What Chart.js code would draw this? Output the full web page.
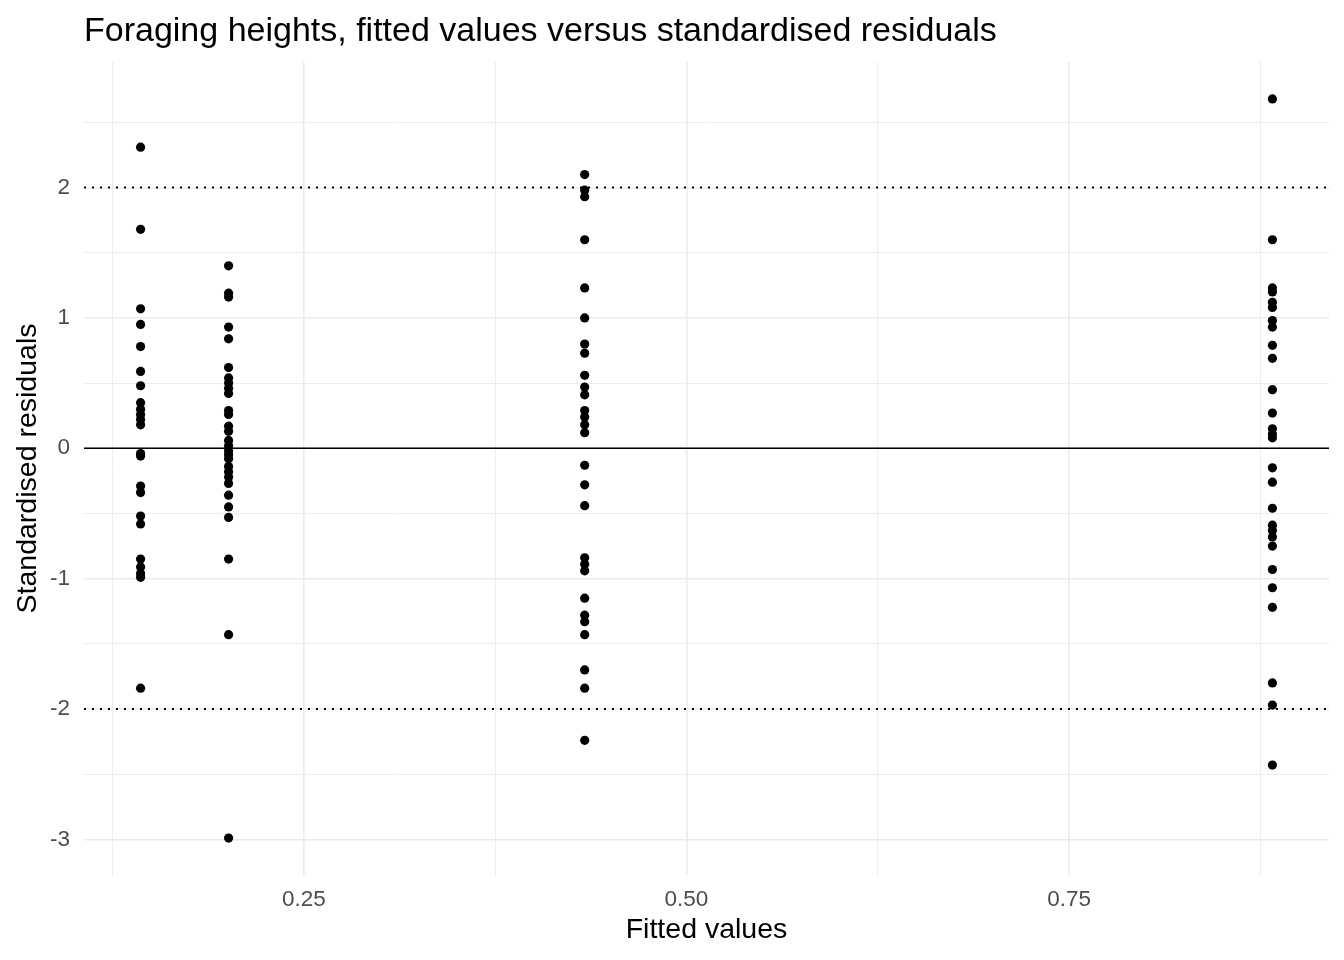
<!DOCTYPE html>
<html>
<head>
<meta charset="utf-8">
<title>Foraging heights residuals</title>
<script src="https://cdn.jsdelivr.net/npm/chart.js@4.4.1/dist/chart.umd.min.js"></script>
<style>
    html, body { margin: 0; padding: 0; background: #ffffff; }
    #chart { display: block; }
</style>
</head>
<body>
<canvas id="chart" width="1344" height="960"></canvas>
<script>
// ========== DATA ==========

// fitted values of the four groups
const fittedValues = [0.1433, 0.2008, 0.4335, 0.8829];

// standardised residuals for each fitted value
const residualsA = [2.31, 1.68, 1.07, 0.95, 0.78, 0.59, 0.48, 0.35, 0.30, 0.26, 0.22, 0.18,
    -0.04, -0.06, -0.29, -0.34, -0.52, -0.58, -0.85, -0.91, -0.96, -0.99, -1.84];
const residualsB = [1.40, 1.19, 1.16, 0.93, 0.84, 0.62, 0.54, 0.50, 0.46, 0.42, 0.29, 0.26,
    0.17, 0.13, 0.06, 0.02, -0.02, -0.05, -0.08, -0.14, -0.18, -0.22, -0.27, -0.36, -0.45,
    -0.53, -0.85, -1.43, -2.99];
const residualsC = [2.10, 1.98, 1.93, 1.60, 1.23, 1.00, 0.80, 0.73, 0.56, 0.47, 0.41, 0.29,
    0.24, 0.18, 0.12, -0.13, -0.28, -0.44, -0.84, -0.89, -0.94, -1.15, -1.28, -1.33, -1.43,
    -1.70, -1.84, -2.24];
const residualsD = [2.68, 1.60, 1.23, 1.20, 1.12, 1.08, 0.98, 0.93, 0.79, 0.69, 0.45, 0.27,
    0.15, 0.11, 0.08, -0.15, -0.26, -0.46, -0.59, -0.63, -0.68, -0.75, -0.93, -1.07, -1.22,
    -1.80, -1.97, -2.43];

// reference lines
const zeroLine = [0];
const limitLines = [-2, 2];

// tick values (major + minor)
const xTicks = [0.125, 0.25, 0.375, 0.5, 0.625, 0.75, 0.875];
const yTicks = [-3, -2.5, -2, -1.5, -1, -0.5, 0, 0.5, 1, 1.5, 2, 2.5];

const titleText = 'Foraging heights, fitted values versus standardised residuals';
const FONT = "'Liberation Sans', Arial, sans-serif";

// ========== BUILD ==========

const residualGroups = [residualsA, residualsB, residualsC, residualsD];
const points = [];
residualGroups.forEach((group, i) => {
    group.forEach(r => points.push({ x: fittedValues[i], y: r }));
});

// ggplot style 5% expansion of the data range
function expandRange(values) {
    const lo = Math.min(...values);
    const hi = Math.max(...values);
    const pad = (hi - lo) * 0.05;
    return [lo - pad, hi + pad];
}

const [xMin, xMax] = expandRange(fittedValues);
const [yMin, yMax] = expandRange(residualGroups.flat());

function hLine(y) {
    return [{ x: xMin, y: y }, { x: xMax, y: y }];
}

const isMajorX = v => Math.abs(v * 4 - Math.round(v * 4)) < 1e-9;
const isMajorY = v => Math.abs(v - Math.round(v)) < 1e-9;

// title drawn at the left edge of the panel
const titlePlugin = {
    id: 'panelTitle',
    afterDraw(chart) {
        const ctx = chart.ctx;
        ctx.save();
        ctx.font = '34px ' + FONT;
        ctx.fillStyle = '#000000';
        ctx.textAlign = 'left';
        ctx.textBaseline = 'alphabetic';
        ctx.fillText(titleText, chart.chartArea.left, 41);
        ctx.restore();
    }
};

const datasets = [];

zeroLine.forEach(y => {
    datasets.push({
        type: 'line',
        data: hLine(y),
        borderColor: '#000000',
        borderWidth: 1.6,
        pointRadius: 0,
        fill: false
    });
});

limitLines.forEach(y => {
    datasets.push({
        type: 'line',
        data: hLine(y),
        borderColor: '#000000',
        borderWidth: 2,
        borderDash: [2, 6],
        borderCapStyle: 'butt',
        pointRadius: 0,
        fill: false
    });
});

datasets.push({
    type: 'scatter',
    data: points,
    backgroundColor: '#000000',
    borderWidth: 0,
    pointRadius: 4.6,
    pointHoverRadius: 4.6
});

new Chart(document.getElementById('chart'), {
    type: 'scatter',
    data: { datasets: datasets },
    options: {
        responsive: false,
        devicePixelRatio: 1,
        animation: false,
        layout: {
            padding: { top: 62, right: 15, left: 0, bottom: 0 }
        },
        plugins: {
            legend: { display: false },
            tooltip: { enabled: false },
            title: { display: false }
        },
        scales: {
            x: {
                type: 'linear',
                min: xMin,
                max: xMax,
                afterBuildTicks: scale => {
                    scale.ticks = xTicks.map(v => ({ value: v }));
                },
                afterFit: scale => { scale.height = 85; },
                border: { display: false },
                grid: {
                    drawTicks: false,
                    color: '#ebebeb',
                    lineWidth: ctx => (ctx.tick && isMajorX(ctx.tick.value)) ? 1.6 : 0.9
                },
                ticks: {
                    padding: 11,
                    color: '#4d4d4d',
                    font: { family: FONT, size: 22.5 },
                    maxRotation: 0,
                    autoSkip: false,
                    callback: v => isMajorX(v) ? v.toFixed(2) : ''
                },
                title: {
                    display: true,
                    text: 'Fitted values',
                    color: '#000000',
                    font: { family: FONT, size: 28.5 },
                    padding: { top: 0, bottom: 13 }
                }
            },
            y: {
                type: 'linear',
                min: yMin,
                max: yMax,
                afterBuildTicks: scale => {
                    scale.ticks = yTicks.map(v => ({ value: v }));
                },
                afterFit: scale => { scale.width = 84; },
                border: { display: false },
                grid: {
                    drawTicks: false,
                    color: '#ebebeb',
                    lineWidth: ctx => (ctx.tick && isMajorY(ctx.tick.value)) ? 1.6 : 0.9
                },
                ticks: {
                    padding: 14,
                    color: '#4d4d4d',
                    font: { family: FONT, size: 22.5 },
                    autoSkip: false,
                    callback: v => isMajorY(v) ? String(v) : ''
                },
                title: {
                    display: true,
                    text: 'Standardised residuals',
                    color: '#000000',
                    font: { family: FONT, size: 28.5 },
                    padding: { top: 11, bottom: 0 }
                }
            }
        }
    },
    plugins: [titlePlugin]
});
</script>
</body>
</html>
